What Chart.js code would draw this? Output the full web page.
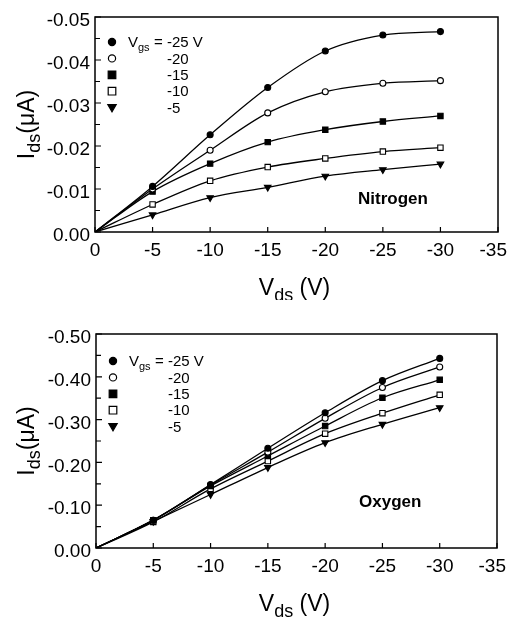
<!DOCTYPE html>
<html>
<head>
<meta charset="utf-8">
<script src="https://cdn.jsdelivr.net/npm/chart.js@4.4.0/dist/chart.umd.min.js"></script>
<style>
html, body { margin: 0; padding: 0; background: #fff; }
#wrap { position: relative; width: 509px; height: 619px; }
canvas { position: absolute; left: 0; }
</style>
</head>
<body>
<div id="wrap">
<canvas id="nitrogen" width="509" height="300" style="top:0"></canvas>
<canvas id="oxygen" width="509" height="319" style="top:300px"></canvas>
</div>
<script>
var vds = [0, -5, -10, -15, -20, -25, -30];
var vgsLabels = ['-25 V', '-20', '-15', '-10', '-5'];

// Nitrogen, Ids in uA
var n2Vgs25 = [0, -0.0106, -0.0226, -0.0336, -0.0421, -0.0458, -0.0466];
var n2Vgs20 = [0, -0.0100, -0.0190, -0.0277, -0.0326, -0.0346, -0.0352];
var n2Vgs15 = [0, -0.0094, -0.0159, -0.0209, -0.0238, -0.0257, -0.0270];
var n2Vgs10 = [0, -0.0064, -0.0119, -0.0151, -0.0171, -0.0187, -0.0196];
var n2Vgs5  = [0, -0.0040, -0.0080, -0.0104, -0.0130, -0.0145, -0.0158];

// Oxygen, Ids in uA
var o2Vgs25 = [0, -0.065, -0.148, -0.233, -0.316, -0.391, -0.443];
var o2Vgs20 = [0, -0.065, -0.147, -0.224, -0.303, -0.375, -0.423];
var o2Vgs15 = [0, -0.065, -0.145, -0.215, -0.285, -0.351, -0.393];
var o2Vgs10 = [0, -0.061, -0.138, -0.203, -0.267, -0.315, -0.358];
var o2Vgs5  = [0, -0.062, -0.125, -0.188, -0.246, -0.289, -0.328];

var FONT = '"Liberation Sans", Arial, Helvetica, sans-serif';

var markers = [
	{style: 'circle', fill: true, r: 3},
	{style: 'circle', fill: false, r: 3},
	{style: 'rect', fill: true, r: 3.8},
	{style: 'rect', fill: false, r: 3.8},
	{style: 'triangle', fill: true, r: 3.8}
];

function drawMarker(ctx, m, x, y, s) {
	ctx.beginPath();
	if (m.style === 'circle') {
		ctx.arc(x, y, s, 0, Math.PI * 2);
	} else if (m.style === 'rect') {
		ctx.rect(x - s, y - s, 2 * s, 2 * s);
	} else {
		ctx.moveTo(x - s * 1.1, y - s * 0.8);
		ctx.lineTo(x + s * 1.1, y - s * 0.8);
		ctx.lineTo(x, y + s * 1.1);
		ctx.closePath();
	}
	ctx.fillStyle = m.fill ? '#000' : '#fff';
	ctx.fill();
	ctx.lineWidth = 1.2;
	ctx.strokeStyle = '#000';
	ctx.stroke();
}

// draws runs of text with optional subscripts, centred on cx
function drawRuns(ctx, runs, cx, baseY) {
	var total = 0;
	runs.forEach(function(r) {
		ctx.font = r.size + 'px ' + FONT;
		r.w = ctx.measureText(r.t).width;
		total += r.w;
	});
	var x = cx - total / 2;
	ctx.textAlign = 'left';
	ctx.textBaseline = 'alphabetic';
	runs.forEach(function(r) {
		ctx.font = r.size + 'px ' + FONT;
		ctx.fillText(r.t, x, baseY + (r.dy || 0));
		x += r.w;
	});
}

var figurePlugin = {
	id: 'figure',
	afterDraw: function(chart, args, opts) {
		var ctx = chart.ctx;
		var a = chart.chartArea;
		var xs = chart.scales.x, ys = chart.scales.y;
		ctx.save();
		ctx.strokeStyle = '#000';
		ctx.fillStyle = '#000';

		// frame
		ctx.lineWidth = 1.5;
		ctx.strokeRect(a.left, a.top, a.right - a.left, a.bottom - a.top);

		// inside ticks on the left axis, major and half-step minor
		ctx.lineWidth = 1.2;
		ctx.beginPath();
		var yt = ys.ticks;
		for (var i = 0; i < yt.length; i++) {
			var py = ys.getPixelForValue(yt[i].value);
			ctx.moveTo(a.left, py);
			ctx.lineTo(a.left + 6, py);
			if (i < yt.length - 1) {
				var pm = ys.getPixelForValue((yt[i].value + yt[i + 1].value) / 2);
				ctx.moveTo(a.left, pm);
				ctx.lineTo(a.left + 5, pm);
			}
		}
		// inside ticks on the bottom axis
		xs.ticks.forEach(function(t) {
			var px = xs.getPixelForValue(t.value);
			ctx.moveTo(px, a.bottom);
			ctx.lineTo(px, a.bottom - 5);
		});
		ctx.stroke();

		// legend in the corner
		var lx = a.left + 17;
		for (var k = 0; k < markers.length; k++) {
			var ly = a.top + opts.legendTop + k * 16.4;
			drawMarker(ctx, markers[k], lx, ly, markers[k].style === 'circle' ? 3.6 : 3.8);
			ctx.fillStyle = '#000';
			ctx.font = '15px ' + FONT;
			ctx.textBaseline = 'middle';
			ctx.textAlign = 'left';
			ctx.fillText(vgsLabels[k], a.left + 72, ly + 1);
			if (k === 0) {
				ctx.fillText('V', a.left + 33, ly + 1);
				ctx.font = '11px ' + FONT;
				ctx.fillText('gs', a.left + 43, ly + 6);
				ctx.font = '15px ' + FONT;
				ctx.fillText('=', a.left + 59, ly + 1);
			}
		}

		// gas label
		ctx.font = 'bold 17px ' + FONT;
		ctx.textBaseline = 'middle';
		ctx.fillText(opts.gas, a.left + 263, a.top + opts.gasTop);

		// x title
		drawRuns(ctx, [
			{t: 'V', size: 23},
			{t: 'ds', size: 18, dy: 6},
			{t: ' (V)', size: 23}
		], (a.left + a.right) / 2 - 2, a.bottom + 55 + 8);

		// y title
		ctx.save();
		ctx.translate(26, (a.top + a.bottom) / 2);
		ctx.rotate(-Math.PI / 2);
		drawRuns(ctx, [
			{t: 'I', size: 23},
			{t: 'ds', size: 18, dy: 6},
			{t: '(\u03bcA)', size: 23}
		], 0, 8);
		ctx.restore();

		ctx.restore();
	}
};

function makeDatasets(series) {
	return series.map(function(vals, k) {
		var m = markers[k];
		return {
			data: vds.map(function(x, i) { return {x: x, y: vals[i]}; }),
			borderColor: '#000',
			borderWidth: 1.3,
			fill: false,
			cubicInterpolationMode: 'monotone',
			pointStyle: m.style,
			pointRotation: m.style === 'triangle' ? 180 : 0,
			pointRadius: vds.map(function(x) { return x === 0 ? 0 : m.r; }),
			pointBackgroundColor: m.fill ? '#000' : '#fff',
			pointBorderColor: '#000',
			pointBorderWidth: 1.1
		};
	});
}

function initChart(id, series, yMin, yStep, gas, box) {
	var ctx = document.getElementById(id).getContext('2d');
	return new Chart(ctx, {
		type: 'line',
		data: { datasets: makeDatasets(series) },
		options: {
			responsive: false,
			animation: false,
			events: [],
			layout: { padding: { top: box.top, right: box.right, left: 0, bottom: 0 } },
			plugins: {
				legend: { display: false },
				tooltip: { enabled: false },
				figure: { gas: gas, legendTop: box.legendTop, gasTop: box.gasTop }
			},
			scales: {
				x: {
					type: 'linear',
					min: -35, max: 0, reverse: true,
					grid: { display: false, drawTicks: false },
					border: { display: false },
					ticks: {
						stepSize: 5, color: '#000', padding: 7, maxRotation: 0,
						font: { family: FONT, size: 19 },
						// trailing en space pulls the last label inside the canvas
						callback: function(v) { return v === -35 ? '-35\u2002' : String(v); }
					},
					afterFit: function(scale) {
						scale.height = box.xHeight;
						scale.paddingLeft = 0;
						scale.paddingRight = 0;
					}
				},
				y: {
					type: 'linear',
					min: yMin, max: 0, reverse: true,
					grid: { display: false, drawTicks: false },
					border: { display: false },
					ticks: {
						stepSize: yStep, color: '#000', padding: 5, labelOffset: 4,
						font: { family: FONT, size: 19 },
						callback: function(v) { return v.toFixed(2); }
					},
					afterFit: function(scale) {
						scale.width = box.yWidth;
						scale.paddingTop = 0;
						scale.paddingBottom = 0;
					}
				}
			}
		},
		plugins: [figurePlugin]
	});
}

initChart('nitrogen', [n2Vgs25, n2Vgs20, n2Vgs15, n2Vgs10, n2Vgs5], -0.05, 0.01, 'Nitrogen',
	{top: 17, right: 11, yWidth: 95, xHeight: 68, legendTop: 25, gasTop: 182});
initChart('oxygen', [o2Vgs25, o2Vgs20, o2Vgs15, o2Vgs10, o2Vgs5], -0.5, 0.1, 'Oxygen',
	{top: 34, right: 12, yWidth: 96, xHeight: 71, legendTop: 27, gasTop: 168});
</script>
</body>
</html>
